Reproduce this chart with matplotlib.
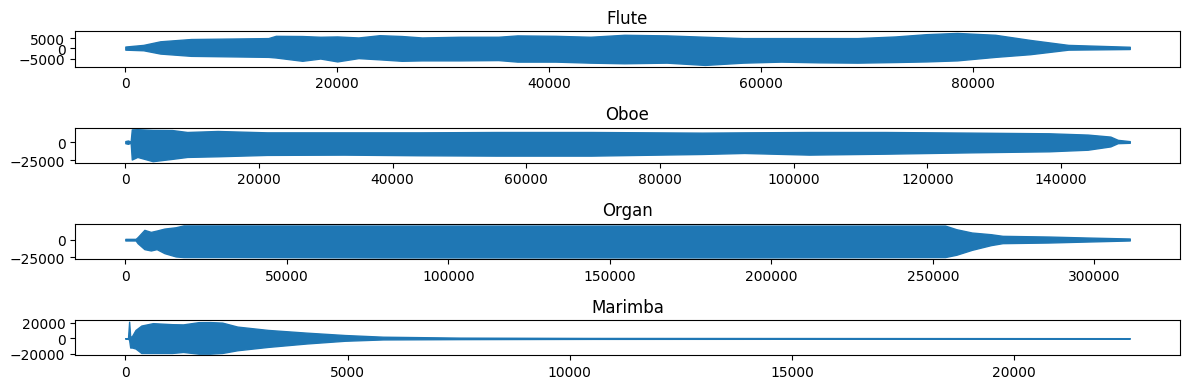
import matplotlib
matplotlib.use("Agg")
import matplotlib.pyplot as plt
import numpy as np

# ── Waveform envelopes (sample index, upper, lower) ──
flute_x = [0, 1700, 3300, 6200, 13500, 14200, 16700, 18400, 20000, 22000,
           24000, 26100, 28000, 31600, 35200, 37000, 40600, 43900, 47100,
           51100, 54700, 58300, 61900, 65500, 69100, 72700, 75600, 78500,
           82100, 85400, 89000, 94800]
flute_up = [900, 1700, 3450, 4550, 5000, 6100, 6000, 5650, 5800, 5300,
            6400, 6000, 5300, 5650, 5650, 6300, 6100, 5650, 6600,
            6300, 5650, 5000, 5000, 5000, 5000, 5800, 6900, 7500,
            6600, 4100, 1700, 800]
flute_lo = [-600, -900, -2500, -3600, -4100, -4400, -6000, -4900, -6300, -4700,
            -5300, -6000, -5800, -5800, -5650, -6400, -6400, -6900, -7200,
            -6900, -8000, -6900, -6400, -6750, -6900, -6600, -6300, -5800,
            -4100, -2800, -600, -300]

oboe_x = [0, 400, 800, 970, 1800, 4100, 7000, 9250, 13800, 21200, 32700,
          44100, 55500, 69700, 86300, 92600, 102300, 113700, 126800,
          138200, 144000, 147400, 148500, 150300]
oboe_up = [1500, 2300, 800, 17700, 18000, 17000, 16800, 14100, 15500, 13600,
           13600, 13600, 14100, 14100, 13200, 13600, 14100, 14100, 13200,
           12300, 10500, 7700, 3200, 1400]
oboe_lo = [-1500, -2300, -800, -24100, -20500, -26400, -23200, -20500, -19600,
           -17700, -17300, -18200, -18700, -18700, -16400, -15000, -17300,
           -16000, -14100, -12700, -10500, -5900, -1400, -900]

organ_x = [0, 3200, 3800, 5900, 7900, 9700, 12100, 15600, 18000, 32200,
           79600, 143400, 190900, 253800, 257300, 262100, 268000, 271600,
           285800, 297700, 311000]
organ_up = [1400, 1400, 3800, 14200, 11300, 13200, 16000, 17900, 20500, 20500,
            20300, 20300, 20300, 20300, 15100, 10400, 8000, 5700,
            4700, 3300, 1900]
organ_lo = [-900, -900, -4700, -13200, -15100, -13200, -18900, -23600, -24500,
            -24500, -25000, -25000, -25000, -24500, -21200, -14200, -7500,
            -4700, -3800, -2400, -900]

marimba_x = [0, 60, 86, 110, 150, 230, 360, 620, 1050, 1300, 1650, 1900,
             2180, 2520, 3210, 4080, 4940, 5800, 7530, 10470, 22600]
marimba_up = [0, 0, 21500, 2000, 3000, 10900, 16500, 19600, 18300, 18000,
              20900, 21000, 20300, 15200, 10900, 7400, 4350, 2200, 1000,
              600, 300]
marimba_lo = [0, 0, -2000, -11700, -11700, -13000, -18700, -18700, -18700,
              -17400, -19600, -19600, -18700, -15200, -10900, -6500, -3000,
              -1300, -900, -600, -300]

titles = ["Flute", "Oboe", "Organ", "Marimba"]
series = [(flute_x, flute_up, flute_lo),
          (oboe_x, oboe_up, oboe_lo),
          (organ_x, organ_up, organ_lo),
          (marimba_x, marimba_up, marimba_lo)]

fig, axes = plt.subplots(4, 1, figsize=(12, 4), dpi=100)

for ax, title, (x, up, lo) in zip(axes, titles, series):
    ax.fill_between(x, lo, up, color="#1f77b4", linewidth=1)
    ax.set_title(title)

axes[3].set_yticks([-20000, 0, 20000])

plt.tight_layout()
plt.savefig("out.png", dpi=100, bbox_inches="tight")
